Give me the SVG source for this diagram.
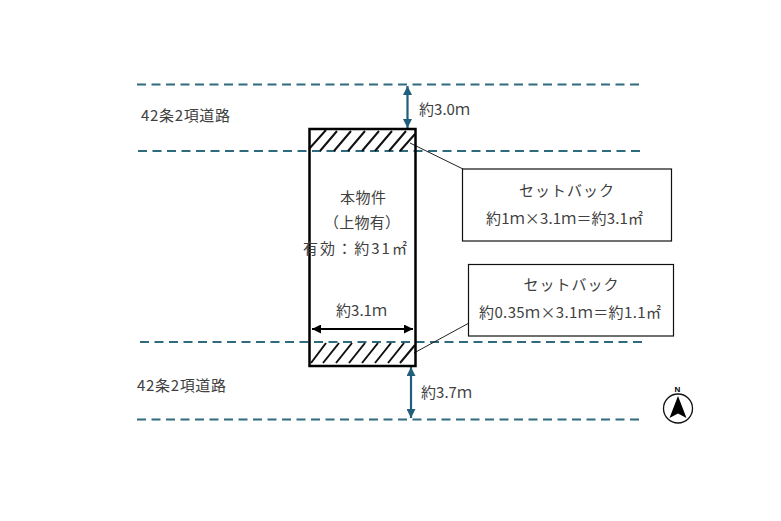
<svg xmlns="http://www.w3.org/2000/svg" width="781" height="521" viewBox="0 0 781 521">
<style>
text{font-family:"Noto Sans CJK JP","Noto Sans",sans-serif;font-size:15px;fill:#404040;text-anchor:middle}
.road{stroke:#2f6b7c;stroke-width:2;stroke-dasharray:9 5.5;fill:none}
.hatch{stroke:#111;stroke-width:2;fill:none}
.box{fill:#fff;stroke:#111;stroke-width:1.2}
.leader{stroke:#222;stroke-width:1;fill:none}
.dim{stroke:#1f5f7c;stroke-width:2.2;fill:none}
.wid{stroke:#000;stroke-width:2;fill:none}
</style>
<defs>
<marker id="ah" markerUnits="userSpaceOnUse" markerWidth="10" markerHeight="9" refX="9" refY="4.5" orient="auto-start-reverse"><path d="M0 0L9 4.5L0 9Z" fill="#1f5f7c"/></marker>
<marker id="ak" markerUnits="userSpaceOnUse" markerWidth="10" markerHeight="9" refX="9" refY="4.5" orient="auto-start-reverse"><path d="M0 0L9 4.5L0 9Z" fill="#000"/></marker>
</defs>
<rect width="781" height="521" fill="#fff"/>
<g id="connectors">
<path class="road" d="M137 84.500H640"/>
<path class="road" d="M138 151H640"/>
<path class="road" d="M140 342H642"/>
<path class="road" d="M137 419.500H640"/>
<path class="dim" d="M407.500 86V128" marker-start="url(#ah)" marker-end="url(#ah)"/>
<path class="dim" d="M411 367V418" marker-start="url(#ah)" marker-end="url(#ah)"/>
<path class="wid" d="M312 329H413" marker-start="url(#ak)" marker-end="url(#ak)"/>
<path class="leader" d="M410 143L463 169"/>
<path class="leader" d="M414 353L469 323"/>
</g>
<g id="property">
<path class="hatch" d="M309 149L326 130M320 151L337 131M334 151L351 131M348 151L365 131M362 151L379 131M375 151L392 131M389 151L406 131M400 151L415 134"/>
<path class="hatch" d="M311 363L326 343M323 363L339 343M336 363L352 343M349 363L365 343M362 363L378 343M375 363L391 343M388 363L404 343M400 363L415 345"/>
<rect x="309.500" y="129" width="106" height="237" fill="none" stroke="#000" stroke-width="2.500"/>
<text x="363" y="203" textLength="46">本物件</text>
<text x="362" y="228" textLength="76">（上物有）</text>
<text x="355" y="254" textLength="104">有効：約31㎡</text>
<text x="361.500" y="316" textLength="51">約3.1ｍ</text>
</g>
<g id="setback-top">
<rect class="box" x="462.500" y="169" width="209" height="72"/>
<text x="566.500" y="196" textLength="95">セットバック</text>
<text x="564.500" y="224" textLength="157">約1ｍ×3.1ｍ＝約3.1㎡</text>
</g>
<g id="setback-bottom">
<rect class="box" x="468.500" y="264.500" width="205" height="71.500"/>
<text x="571" y="290" textLength="95">セットバック</text>
<text x="570" y="318" textLength="182">約0.35ｍ×3.1ｍ＝約1.1㎡</text>
</g>
<g id="labels">
<text x="185.500" y="121" textLength="89">42条2項道路</text>
<text x="181.500" y="391" textLength="89">42条2項道路</text>
<text x="444.500" y="115" textLength="51">約3.0ｍ</text>
<text x="446.500" y="398" textLength="51">約3.7ｍ</text>
</g>
<g id="north">
<circle cx="678" cy="408.500" r="14.500" fill="#fff" stroke="#111" stroke-width="1.300"/>
<path d="M678 396L686.500 418L678 413.500L669.500 418Z" fill="#000"/>
<text x="677.500" y="392" style="font-size:8px;font-weight:700;fill:#000;font-family:'Liberation Sans',sans-serif">N</text>
</g>
</svg>
